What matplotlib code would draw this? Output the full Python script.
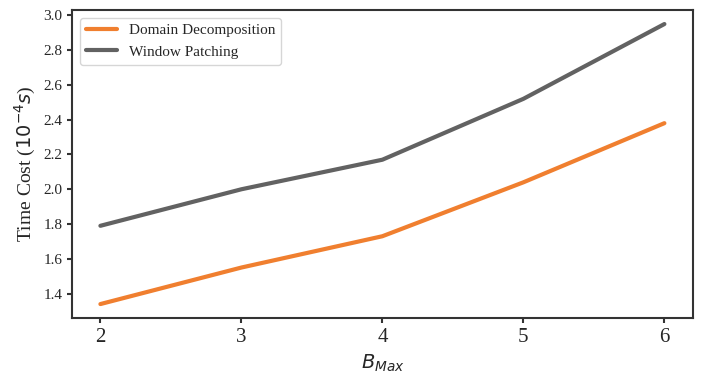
import numpy as np
import matplotlib
matplotlib.use('Agg')
import matplotlib.pyplot as plt
import seaborn as sns

b_max = [2, 3, 4, 5, 6]
domain_decomp = [1.34, 1.55, 1.73, 2.04, 2.38]
window_patch = [1.79, 2.00, 2.17, 2.52, 2.95]

sns.set_style('ticks')
plt.rcParams['font.family'] = ['Liberation Serif', 'DejaVu Sans']
plt.rcParams['mathtext.fontset'] = 'dejavusans'

fig, ax = plt.subplots(figsize=(7.01, 3.86), dpi=100)
ax.plot(b_max, domain_decomp, color='#f07f2f', lw=3, label='Domain Decomposition')
ax.plot(b_max, window_patch, color='#626262', lw=3, label='Window Patching')

ax.set_xticks(b_max)
ax.tick_params(axis='x', labelsize=15)
ax.tick_params(axis='y', labelsize=11)
ax.set_xlabel('$B_{Max}$', fontsize=14)
ax.set_ylabel('Time Cost ($10^{-4}s$)', fontsize=14)
for s in ax.spines.values():
    s.set_color('#333333')
    s.set_linewidth(1.5)
ax.tick_params(color='#333333', width=1.5)
ax.legend(loc='upper left', fontsize=11, labelspacing=0.5, handlelength=2.0)

plt.subplots_adjust(left=0.103, right=0.988, top=0.974, bottom=0.176)
plt.savefig('out.png', dpi=100)
